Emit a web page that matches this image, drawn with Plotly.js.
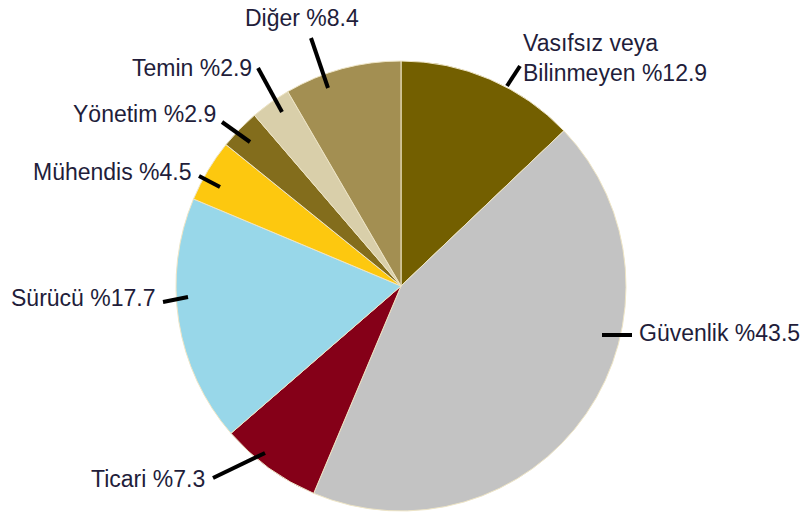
<!DOCTYPE html>
<html>
<head>
<meta charset="utf-8">
<script src="https://cdn.plot.ly/plotly-3.0.1.min.js"></script>
<style>html,body{margin:0;padding:0;background:#fff;}#chart{width:805px;height:515px;}</style>
</head>
<body>
<div id="chart"></div>
<script>
// Data
const categories = ['Vasıfsız veya<br>Bilinmeyen', 'Güvenlik', 'Ticari', 'Sürücü', 'Mühendis', 'Yönetim', 'Temin', 'Diğer'];
const shares = [12.9, 43.5, 7.3, 17.7, 4.5, 2.9, 2.9, 8.4];
const colors = ['#735f00', '#c3c3c3', '#850018', '#98d7e9', '#fdc80f', '#836d1c', '#d9cfaa', '#a38f52'];

const W = 805, H = 515;
const px = x => x / W;
const py = y => 1 - y / H;

// label layout (pixel positions of text anchor and leader line ends)
const labelPos = [
  {x: 521, y: 58, xa: 'left', line: [507, 86, 520, 66]},
  {x: 637, y: 333, xa: 'left', line: [602, 335, 632, 335]},
  {x: 207, y: 479, xa: 'right', line: [213, 478, 265, 453]},
  {x: 157, y: 298, xa: 'right', line: [163, 302, 188, 297]},
  {x: 194, y: 172, xa: 'right', line: [199, 176, 220, 187]},
  {x: 218, y: 114, xa: 'right', line: [222, 122, 250, 142]},
  {x: 254, y: 68, xa: 'right', line: [258, 68, 282, 112]},
  {x: 302, y: 18, xa: 'center', line: [311, 38, 328, 88]}
];

const annotations = categories.map((c, i) => ({
  xref: 'paper', yref: 'paper',
  x: px(labelPos[i].x), y: py(labelPos[i].y),
  xanchor: labelPos[i].xa, yanchor: 'middle', align: 'left',
  text: c + ' %' + shares[i],
  showarrow: false,
  font: {family: 'Liberation Sans, Arial, sans-serif', size: 23, color: '#221d3a'}
}));

const shapes = labelPos.map(p => ({
  type: 'line', xref: 'paper', yref: 'paper',
  x0: px(p.line[0]), y0: py(p.line[1]), x1: px(p.line[2]), y1: py(p.line[3]),
  line: {color: '#000', width: 4}
}));

const cx = 401, cy = 286, r = 225;
const trace = {
  type: 'pie',
  labels: categories,
  values: shares,
  sort: false,
  direction: 'clockwise',
  rotation: 0,
  textinfo: 'none',
  hoverinfo: 'label+value',
  marker: {colors: colors, line: {color: '#eee5c6', width: 1}},
  domain: {x: [px(cx - r), px(cx + r)], y: [py(cy + r), py(cy - r)]},
  showlegend: false
};

Plotly.newPlot('chart', [trace], {
  width: W, height: H,
  margin: {l: 0, r: 0, t: 0, b: 0},
  paper_bgcolor: '#fff',
  showlegend: false,
  annotations: annotations,
  shapes: shapes
}, {displayModeBar: false, staticPlot: true});
</script>
</body>
</html>
